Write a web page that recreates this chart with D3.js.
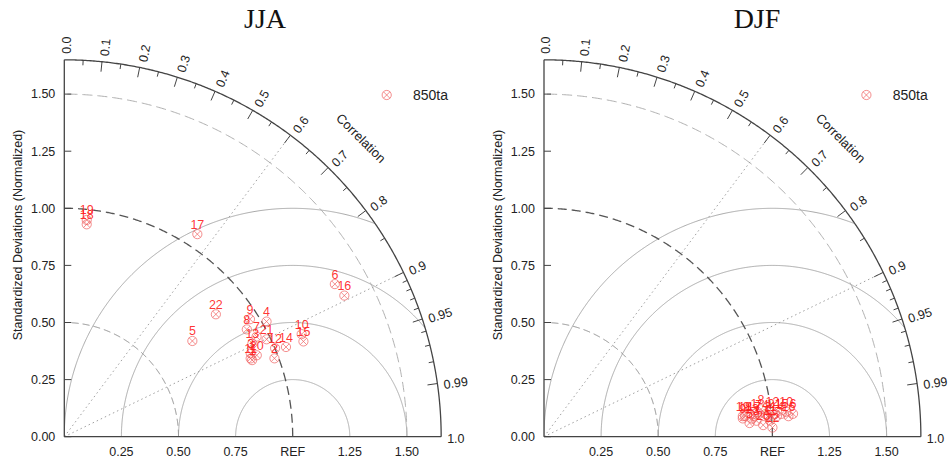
<!DOCTYPE html>
<html>
<head>
<meta charset="utf-8">
<script src="https://cdn.jsdelivr.net/npm/d3@7"></script>
<style>
  body { margin: 0; background: #fff; }
  text { font-family: "Liberation Sans", Arial, sans-serif; }
</style>
</head>
<body>
<svg id="chart" width="951" height="461"></svg>
<script>
// model numbers shown next to each marker
const modelIds = [1, 2, 3, 4, 5, 6, 7, 8, 9, 10, 11, 12, 13, 14, 15, 16, 17, 18, 19, 20, 21, 22];

// JJA: normalized standard deviation and correlation of each model
const jjaStd = [0.888, 0.982, 0.894, 1.019, 0.700, 1.360, 0.949, 0.927, 0.962, 1.132, 0.885,
                1.001, 0.919, 1.047, 1.127, 1.373, 1.061, 0.935, 0.954, 0.915, 0.983, 0.853];
const jjaCor = [0.926, 0.937, 0.913, 0.869, 0.801, 0.871, 0.887, 0.862, 0.845, 0.918, 0.922,
                0.922, 0.896, 0.927, 0.929, 0.893, 0.549, 0.105, 0.103, 0.921, 0.901, 0.778];

// DJF
const djfStd = [0.925, 0.984, 0.933, 0.975, 0.902, 1.095, 0.945, 0.958, 0.874, 1.066, 0.992,
                1.006, 0.914, 1.024, 1.045, 1.074, 0.924, 0.885, 0.875, 0.961, 1.015, 1.001];
const djfCor = [0.9942, 0.9958, 0.9972, 0.9948, 0.9978, 0.9958, 0.9945, 0.9921, 0.9958, 0.9947, 0.9975,
                0.9940, 0.9962, 0.9961, 0.9954, 0.9965, 0.9953, 0.9948, 0.9947, 0.9986, 0.9951, 0.9992];

const seriesName = "850ta";

// axis ticks
const stdTicks = [0, 0.25, 0.5, 0.75, 1.0, 1.25, 1.5];
const stdTickLabels = ["0.00", "0.25", "0.50", "0.75", "1.00", "1.25", "1.50"];
const xTicks = [0.25, 0.5, 0.75, 1.0, 1.25, 1.5];
const xTickLabels = ["0.25", "0.50", "0.75", "REF", "1.25", "1.50"];
const corMajor = [0.0, 0.1, 0.2, 0.3, 0.4, 0.5, 0.6, 0.7, 0.8, 0.9, 0.95, 0.99, 1.0];
const corMajorLabels = ["0.0", "0.1", "0.2", "0.3", "0.4", "0.5", "0.6", "0.7", "0.8", "0.9", "0.95", "0.99", "1.0"];
const corMinor = [0.05, 0.15, 0.25, 0.35, 0.45, 0.55, 0.65, 0.75, 0.85, 0.91, 0.92, 0.93, 0.94, 0.96, 0.97, 0.98];

// reference lines
const rmsLevels = [0.25, 0.5, 0.75, 1.0];
const stdArcs = [0.5, 1.0, 1.5];
const corLines = [0.6, 0.9];

const svg = d3.select("#chart");
const unit = 228.4, maxStd = 1.65, originY = 436.7;

const panels = [
    { title: "JJA", ox: 64.3, titleX: 265, std: jjaStd, cor: jjaCor },
    { title: "DJF", ox: 544, titleX: 757, std: djfStd, cor: djfCor }
];

panels.forEach((p, i) => drawTaylor(p, i));

function drawTaylor(p, idx) {
    const sx = d3.scaleLinear().domain([0, maxStd]).range([p.ox, p.ox + maxStd * unit]);
    const sy = d3.scaleLinear().domain([0, maxStd]).range([originY, originY - maxStd * unit]);
    const g = svg.append("g");
    const line = d3.line();
    const deg = Math.PI / 180;

    // points on a circle around the origin (std arc)
    function arcPts(s) {
        return d3.range(0, 90.25, 0.25).map(a => [sx(s * Math.cos(a * deg)), sy(s * Math.sin(a * deg))]);
    }
    function polar(s, c) {
        return [sx(s * c), sy(s * Math.sqrt(1 - c * c))];
    }

    // clip: quarter disk
    const clipId = "clip" + idx;
    g.append("clipPath").attr("id", clipId)
        .append("path")
        .attr("d", line([[sx(0), sy(0)]].concat(arcPts(maxStd))) + "Z");

    // RMS circles around REF
    g.append("g").attr("clip-path", "url(#" + clipId + ")")
        .selectAll("path").data(rmsLevels).join("path")
        .attr("d", r => line(d3.range(0, 180.25, 0.25).map(a => [sx(1 + r * Math.cos(a * deg)), sy(r * Math.sin(a * deg))])))
        .attr("fill", "none")
        .attr("stroke", "#a8a8a8")
        .attr("stroke-width", 1);

    // std dev arcs
    const arcStyle = {
        0.5: { c: "#8c8c8c", d: "7,4", w: 1 },
        1.0: { c: "#555", d: "9,5", w: 1.3 },
        1.5: { c: "#b0b0b0", d: "10,5", w: 1 }
    };
    g.selectAll("path.std").data(stdArcs).join("path")
        .attr("class", "std")
        .attr("d", s => line(arcPts(s)))
        .attr("fill", "none")
        .attr("stroke", s => arcStyle[s].c)
        .attr("stroke-width", s => arcStyle[s].w)
        .attr("stroke-dasharray", s => arcStyle[s].d);

    // dotted correlation lines
    g.selectAll("line.cor").data(corLines).join("line")
        .attr("class", "cor")
        .attr("x1", sx(0)).attr("y1", sy(0))
        .attr("x2", c => polar(maxStd, c)[0])
        .attr("y2", c => polar(maxStd, c)[1])
        .attr("stroke", "#a0a0a0")
        .attr("stroke-width", 1)
        .attr("stroke-dasharray", "1.5,3");

    // outer arc + axes
    g.append("path")
        .attr("d", line(arcPts(maxStd)))
        .attr("fill", "none").attr("stroke", "#444").attr("stroke-width", 1.3);
    g.append("line")
        .attr("x1", sx(0)).attr("y1", sy(0)).attr("x2", sx(0)).attr("y2", sy(maxStd))
        .attr("stroke", "#444").attr("stroke-width", 1.3);
    g.append("line")
        .attr("x1", sx(0)).attr("y1", sy(0)).attr("x2", sx(maxStd)).attr("y2", sy(0))
        .attr("stroke", "#444").attr("stroke-width", 1.3);

    // left axis ticks + labels
    g.selectAll("line.yt").data(stdTicks).join("line")
        .attr("class", "yt")
        .attr("x1", sx(0)).attr("x2", sx(0) + 7)
        .attr("y1", d => sy(d)).attr("y2", d => sy(d))
        .attr("stroke", "#444");
    g.selectAll("text.yl").data(stdTicks).join("text")
        .attr("class", "yl")
        .attr("x", sx(0) - 9)
        .attr("y", d => sy(d))
        .attr("dy", "0.35em")
        .attr("text-anchor", "end")
        .attr("font-size", "12.5px")
        .attr("fill", "#222")
        .text((d, i) => stdTickLabels[i]);

    // bottom labels
    g.selectAll("text.xl").data(xTicks).join("text")
        .attr("class", "xl")
        .attr("x", d => sx(d))
        .attr("y", sy(0) + 15)
        .attr("dy", "0.35em")
        .attr("text-anchor", "middle")
        .attr("font-size", "12.5px")
        .attr("fill", "#222")
        .text((d, i) => xTickLabels[i]);

    // correlation ticks
    const tickData = corMajor.filter(c => c > 0 && c < 1).map(c => ({ c: c, len: 10 }))
        .concat(corMinor.map(c => ({ c: c, len: 5 })));
    g.selectAll("line.ct").data(tickData).join("line")
        .attr("class", "ct")
        .attr("x1", d => polar(maxStd, d.c)[0])
        .attr("y1", d => polar(maxStd, d.c)[1])
        .attr("x2", d => polar(maxStd - d.len / unit, d.c)[0])
        .attr("y2", d => polar(maxStd - d.len / unit, d.c)[1])
        .attr("stroke", "#444");

    // correlation labels, radial
    g.selectAll("text.cl").data(corMajor).join("text")
        .attr("class", "cl")
        .attr("transform", c => {
            const pt = polar(maxStd + 6 / unit, c);
            return "translate(" + pt[0] + "," + pt[1] + ") rotate(" + (-Math.acos(c) / deg) + ")";
        })
        .attr("dy", "0.5em")
        .attr("text-anchor", "start")
        .attr("font-size", "12.5px")
        .attr("fill", "#222")
        .text((c, i) => corMajorLabels[i]);

    // "Correlation" title along the arc
    const cPos = polar(1.843, 0.705);
    g.append("text")
        .attr("transform", "translate(" + cPos[0] + "," + cPos[1] + ") rotate(" + (90 - Math.acos(0.705) / deg) + ")")
        .attr("text-anchor", "middle")
        .attr("dy", "0.35em")
        .attr("font-size", "13px")
        .attr("fill", "#222")
        .text("Correlation");

    // y axis title
    g.append("text")
        .attr("transform", "translate(" + (sx(0) - 46.8) + "," + 235 + ") rotate(-90)")
        .attr("text-anchor", "middle")
        .attr("dy", "0.35em")
        .attr("font-size", "12.5px")
        .attr("fill", "#222")
        .text("Standardized Deviations (Normalized)");

    // panel title
    g.append("text")
        .attr("x", p.titleX).attr("y", 28)
        .attr("text-anchor", "middle")
        .attr("font-family", "'Liberation Serif', 'Times New Roman', serif")
        .style("font-family", "'Liberation Serif', 'Times New Roman', serif")
        .attr("font-size", "28px")
        .attr("fill", "#111")
        .text(p.title);

    // markers
    const pts = modelIds.map((id, i) => ({ id: id, s: p.std[i], c: p.cor[i] }));
    const mk = g.selectAll("g.mk").data(pts).join("g")
        .attr("class", "mk")
        .attr("transform", d => { const pt = polar(d.s, d.c); return "translate(" + pt[0] + "," + pt[1] + ")"; });
    drawMarker(mk);
    g.selectAll("text.lab").data(pts).join("text")
        .attr("class", "lab")
        .attr("x", d => polar(d.s, d.c)[0])
        .attr("y", d => polar(d.s, d.c)[1] - 5.5)
        .attr("text-anchor", "middle")
        .attr("font-size", "12.5px")
        .attr("fill", "#ff1a1a")
        .attr("fill-opacity", 0.9)
        .text(d => d.id);

    // legend
    const lg = g.append("g").attr("transform", "translate(" + (sx(0) + 322.4) + ",95)");
    drawMarker(lg);
    g.append("text")
        .attr("x", sx(0) + 348.7).attr("y", 100)
        .attr("font-size", "14px")
        .attr("fill", "#222")
        .text(seriesName);
}

function drawMarker(sel) {
    const r = 4.6, k = r * 0.7;
    sel.append("circle").attr("r", r)
        .attr("fill", "none").attr("stroke", "#f06060").attr("stroke-opacity", 0.7).attr("stroke-width", 1);
    sel.append("path")
        .attr("d", "M" + (-k) + "," + (-k) + "L" + k + "," + k + "M" + (-k) + "," + k + "L" + k + "," + (-k))
        .attr("stroke", "#f06060").attr("stroke-opacity", 0.7).attr("stroke-width", 1);
}
</script>
</body>
</html>
